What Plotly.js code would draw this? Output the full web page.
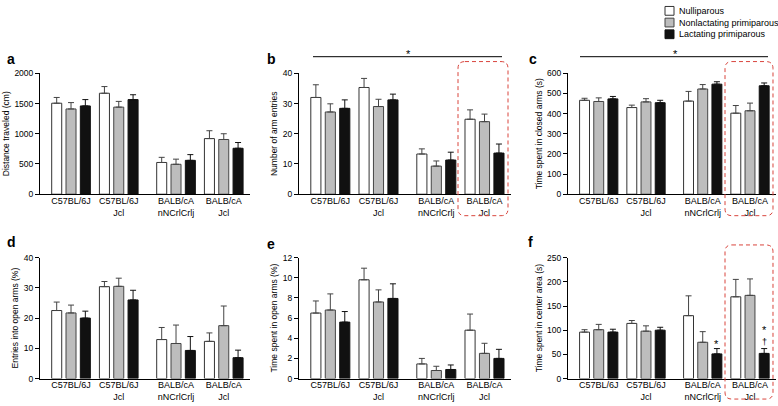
<!DOCTYPE html>
<html><head><meta charset="utf-8">
<script src="https://cdn.plot.ly/plotly-3.0.1.min.js"></script>
<style>html,body{margin:0;padding:0;background:#fff}#chart{width:778px;height:406px}</style>
</head><body><div id="chart"></div>
<script>
// ---- data ----
const strains = ["C57BL/6J", "C57BL/6J<br>Jcl", "BALB/cA<br>nNCrlCrlj", "BALB/cA<br>Jcl"];
const groupPos = [0, 1, 2.2, 3.2];
const seriesNames = ["Nulliparous", "Nonlactating primiparous", "Lactating primiparous"];

// a: Distance traveled (cm)
const distNull = [1505, 1670, 525, 920];   const distNullErr = [95, 110, 85, 130];
const distNonlac = [1410, 1440, 495, 905]; const distNonlacErr = [105, 95, 85, 95];
const distLac = [1460, 1565, 560, 760];    const distLacErr = [105, 80, 95, 95];
// b: Number of arm entries
const armNull = [32.0, 35.3, 13.3, 24.8];  const armNullErr = [4.2, 3.0, 1.7, 3.1];
const armNonlac = [27.2, 29.0, 9.3, 24.0]; const armNonlacErr = [2.7, 2.4, 1.7, 2.5];
const armLac = [28.4, 31.2, 11.3, 13.6];   const armLacErr = [2.8, 1.9, 2.6, 3.0];
// c: Time spent in closed arms (s)
const closedNull = [466, 430, 462, 402];   const closedNullErr = [10, 12, 48, 38];
const closedNonlac = [460, 458, 522, 414]; const closedNonlacErr = [18, 16, 22, 38];
const closedLac = [473, 454, 546, 538];    const closedLacErr = [12, 12, 12, 14];
// d: Entries into open arms (%)
const openEntNull = [22.5, 30.4, 12.9, 12.3];   const openEntNullErr = [2.8, 1.7, 4.0, 2.8];
const openEntNonlac = [21.7, 30.5, 11.6, 17.5]; const openEntNonlacErr = [2.6, 2.7, 6.1, 6.5];
const openEntLac = [20.0, 26.0, 9.3, 6.9];      const openEntLacErr = [2.3, 3.2, 4.6, 2.5];
// e: Time spent in open arms (%)
const openTimeNull = [6.5, 9.8, 1.45, 4.8];   const openTimeNullErr = [1.2, 1.15, 0.55, 1.6];
const openTimeNonlac = [6.8, 7.6, 0.8, 2.5];  const openTimeNonlacErr = [1.6, 1.2, 0.42, 1.0];
const openTimeLac = [5.6, 7.95, 0.9, 2.0];    const openTimeLacErr = [1.05, 1.45, 0.45, 0.9];
// f: Time spent in center area (s)
const centerNull = [96, 114, 130, 169];   const centerNullErr = [5, 6, 41, 36];
const centerNonlac = [101, 98, 75, 172];  const centerNonlacErr = [11, 11, 22, 34];
const centerLac = [96, 100, 51, 52];      const centerLacErr = [6, 6, 11, 10];

// ---- layout helpers ----
const W = 778, H = 406;
const px = x => x / W;
const py = y => 1 - y / H;
const FONT = "Arial, 'Liberation Sans', sans-serif";

const panels = [
  {letter:"a", title:"Distance traveled (cm)", max:2000, dtick:500, vals:[distNull,distNonlac,distLac], errs:[distNullErr,distNonlacErr,distLacErr]},
  {letter:"b", title:"Number of arm entries", max:40, dtick:10, vals:[armNull,armNonlac,armLac], errs:[armNullErr,armNonlacErr,armLacErr]},
  {letter:"c", title:"Time spent in closed arms (s)", max:600, dtick:100, vals:[closedNull,closedNonlac,closedLac], errs:[closedNullErr,closedNonlacErr,closedLacErr]},
  {letter:"d", title:"Entries into open arms (%)", max:40, dtick:10, vals:[openEntNull,openEntNonlac,openEntLac], errs:[openEntNullErr,openEntNonlacErr,openEntLacErr]},
  {letter:"e", title:"Time spent in open arms (%)", max:12, dtick:2, vals:[openTimeNull,openTimeNonlac,openTimeLac], errs:[openTimeNullErr,openTimeNonlacErr,openTimeLacErr]},
  {letter:"f", title:"Time spent in center area (s)", max:250, dtick:50, vals:[centerNull,centerNonlac,centerLac], errs:[centerNullErr,centerNonlacErr,centerLacErr]}
];

const colX = [[40,250],[299,511],[568,776]];
const rowY = [[70,194],[259,383]];
const letterPos = [[5,55],[265,55],[527,55],[5,243],[265,245],[526,243]];

const fills = ["#ffffff", "#bdbdbd", "#111111"];
const edges = ["#333333", "#444444", "#111111"];
const errCols = ["#444444", "#444444", "#111111"];

const traces = [];
const layout = {
  width: W, height: H,
  margin: {l:0, r:0, t:0, b:0},
  paper_bgcolor: "#fff", plot_bgcolor: "#fff",
  barmode: "group", bargap: 0.1, bargroupgap: 0.3,
  showlegend: false,
  font: {family: FONT, color: "#000", size: 8},
  shapes: [], annotations: []
};

panels.forEach((p, i) => {
  const col = i % 3, row = Math.floor(i / 3);
  const s = i === 0 ? "" : String(i + 1);
  p.vals.forEach((v, k) => {
    traces.push({
      type: "bar", x: groupPos, y: v, name: seriesNames[k],
      xaxis: "x" + s, yaxis: "y" + s, offsetgroup: String(k),
      marker: {color: fills[k], line: {color: edges[k], width: 1}},
      error_y: {type: "data", symmetric: false, array: p.errs[k], arrayminus: v.map(() => 0),
                color: errCols[k], thickness: 1, width: 3},
      hoverinfo: "y"
    });
  });
  layout["xaxis" + s] = {
    domain: [px(colX[col][0]), px(colX[col][1])], anchor: "y" + s,
    range: [-0.65, 3.75], tickvals: groupPos, ticktext: strains,
    ticks: "", showline: true, linecolor: "#000", linewidth: 1, ticklabelstandoff: -2,
    showgrid: false, zeroline: false, tickfont: {size: 9, family: FONT, color: "#000"}
  };
  layout["yaxis" + s] = {
    domain: [py(rowY[row][1]), py(rowY[row][0])], anchor: "x" + s,
    range: [0, p.max], dtick: p.dtick, tick0: 0,
    ticks: "outside", ticklen: 4, tickwidth: 1, tickcolor: "#000",
    showline: true, linecolor: "#000", linewidth: 1,
    showgrid: false, zeroline: false, automargin: true,
    tickfont: {size: 8.5, family: FONT, color: "#000"},
    title: {text: p.title, font: {size: 8.5, family: FONT, color: "#000"}, standoff: 3}
  };
  layout.annotations.push({
    xref: "paper", yref: "paper", x: px(letterPos[i][0]), y: py(letterPos[i][1]),
    xanchor: "left", yanchor: "middle", showarrow: false,
    text: "<b>" + p.letter + "</b>", font: {size: 14, family: FONT, color: "#000"}
  });
});

// significance bars (b, c)
[[313,502,408],[580,768,675]].forEach(([x0,x1,xs]) => {
  layout.shapes.push({type:"line", xref:"paper", yref:"paper", x0:px(x0), x1:px(x1), y0:py(53), y1:py(53), line:{color:"#000", width:1}});
  layout.annotations.push({xref:"paper", yref:"paper", x:px(xs), y:py(50), text:"*", showarrow:false,
    xanchor:"center", yanchor:"middle", font:{size:11, family:FONT, color:"#000"}});
});

// red dashed rounded boxes
function roundRect(x0, y0, x1, y1, r) {
  const X = v => px(v).toFixed(5), Y = v => py(v).toFixed(5);
  return `M${X(x0+r)},${Y(y0)} L${X(x1-r)},${Y(y0)} Q${X(x1)},${Y(y0)} ${X(x1)},${Y(y0+r)} ` +
         `L${X(x1)},${Y(y1-r)} Q${X(x1)},${Y(y1)} ${X(x1-r)},${Y(y1)} ` +
         `L${X(x0+r)},${Y(y1)} Q${X(x0)},${Y(y1)} ${X(x0)},${Y(y1-r)} ` +
         `L${X(x0)},${Y(y0+r)} Q${X(x0)},${Y(y0)} ${X(x0+r)},${Y(y0)} Z`;
}
[[458,58,508,216],[725,58,773,216],[725,246,773,404]].forEach(b => {
  layout.shapes.push({type:"path", xref:"paper", yref:"paper", path: roundRect(b[0],b[1],b[2],b[3],7),
    line:{color:"#d9453d", width:1, dash:"4px,3px"}});
});

// f markers
layout.annotations.push(
  {xref:"x6", yref:"y6", x: groupPos[2] + 0.3, y: 72, text:"*", showarrow:false, font:{size:11, family:FONT, color:"#000"}},
  {xref:"x6", yref:"y6", x: groupPos[3] + 0.3, y: 101, text:"*", showarrow:false, font:{size:11, family:FONT, color:"#000"}},
  {xref:"x6", yref:"y6", x: groupPos[3] + 0.3, y: 75, text:"†", showarrow:false, font:{size:9, family:FONT, color:"#000"}}
);

// legend (manual)
const legRows = [6, 18, 30];
seriesNames.forEach((n, k) => {
  layout.shapes.push({type:"rect", xref:"paper", yref:"paper", x0:px(665), x1:px(674),
    y0:py(legRows[k]+4.5), y1:py(legRows[k]-4.5), fillcolor: fills[k], line:{color: edges[k], width:1}});
  layout.annotations.push({xref:"paper", yref:"paper", x:px(677), y:py(legRows[k]), text:n,
    showarrow:false, xanchor:"left", yanchor:"middle", font:{size:9, family:FONT, color:"#000"}});
});

Plotly.newPlot("chart", traces, layout, {staticPlot: true});
</script></body></html>
